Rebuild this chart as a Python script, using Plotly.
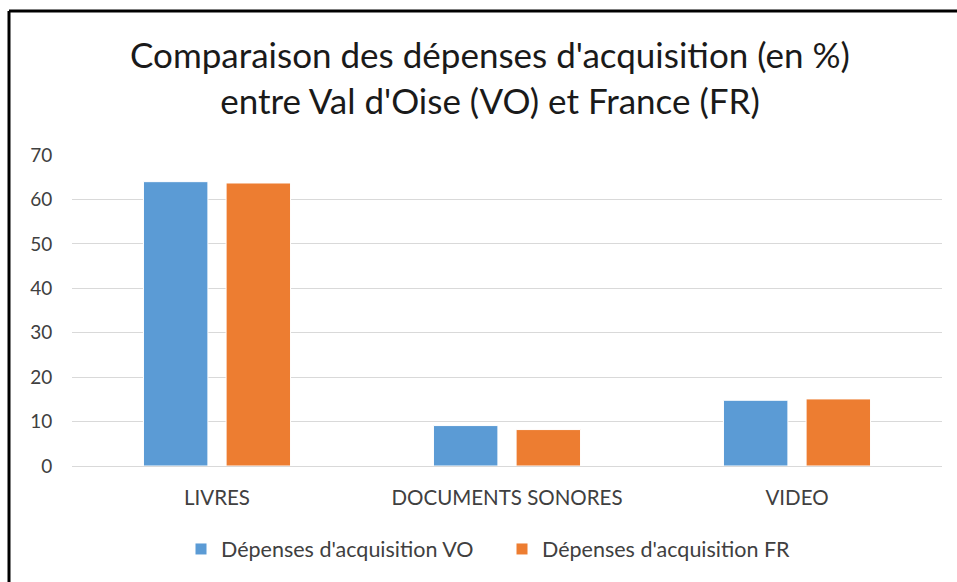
import plotly.graph_objects as go

categories = ["LIVRES", "DOCUMENTS SONORES", "VIDEO"]
vo_values = [64.0, 9.1, 14.8]
fr_values = [63.7, 8.2, 15.1]
series_names = ["Dépenses d'acquisition VO", "Dépenses d'acquisition FR"]
y_ticks = [0, 10, 20, 30, 40, 50, 60, 70]

FONT = "Lato"
W, H = 957, 582

# plot area in page pixels
PL, PR, PT, PB = 72, 942, 155, 466
L, T, R, B = PL, PT, W - PR, H - PB

fig = go.Figure()
fig.add_trace(go.Bar(x=categories, y=vo_values, name=series_names[0],
                     marker=dict(color="#5B9BD5", line=dict(color="#ffffff", width=1))))
fig.add_trace(go.Bar(x=categories, y=fr_values, name=series_names[1],
                     marker=dict(color="#ED7D31", line=dict(color="#ffffff", width=1))))

pw = PR - PL
ph = PB - PT

def px_x(x):
    return (x - PL) / pw

def px_y(y):
    return (PB - y) / ph

fig.update_layout(
    width=W, height=H,
    margin=dict(l=L, r=R, t=T, b=B, autoexpand=False),
    paper_bgcolor="white", plot_bgcolor="white",
    barmode="group", bargap=0.43, bargroupgap=0.22,
    font=dict(family=FONT, color="#404040", size=19),
    title=dict(text="Comparaison des dépenses d'acquisition (en %)<br>entre Val d'Oise (VO) et France (FR)",
               x=px_x(490), xref="paper", xanchor="center", y=1 - 68 / H, yanchor="middle",
               font=dict(family=FONT, size=35, color="#1a1a1a")),
    xaxis=dict(showgrid=False, showline=True, linecolor="#D9D9D9", linewidth=1,
               ticks="outside", ticklen=13, tickcolor="rgba(0,0,0,0)",
               tickfont=dict(family=FONT, size=20.5, color="#404040")),
    yaxis=dict(range=[0, 70], tickvals=y_ticks, showgrid=True, gridcolor="#D9D9D9",
               gridwidth=1, zeroline=False, showline=False,
               ticks="outside", ticklen=15, tickcolor="rgba(0,0,0,0)",
               tickfont=dict(family=FONT, size=19, color="#404040")),
    legend=dict(orientation="h", x=px_x(181), xanchor="left", y=px_y(549), yanchor="middle",
                font=dict(family=FONT, size=21.5, color="#404040"), itemwidth=30,
                entrywidth=276, traceorder="normal"),
    showlegend=True,
)

# chart frame (only top and left edges are visible in the picture)
fig.add_shape(type="line", xref="paper", yref="paper",
              x0=px_x(9), x1=px_x(W), y0=px_y(11), y1=px_y(11),
              line=dict(color="black", width=3))
fig.add_shape(type="line", xref="paper", yref="paper",
              x0=px_x(9), x1=px_x(9), y0=px_y(11), y1=px_y(H),
              line=dict(color="black", width=3))

fig.write_html(
    "out.html",
    config={"displayModeBar": False},
    post_script="document.body.style.margin='0';document.body.style.overflow='hidden';",
)
